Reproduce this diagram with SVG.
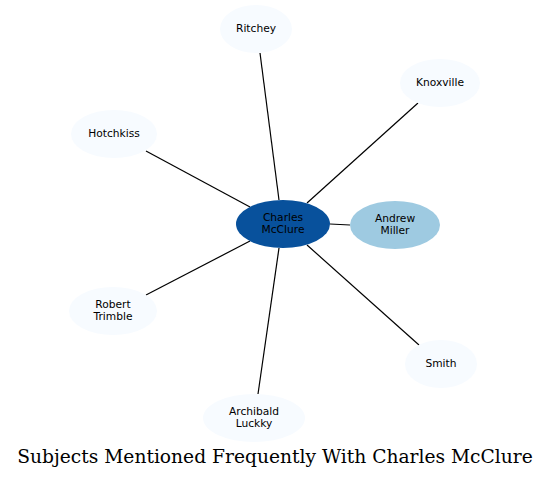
<svg xmlns="http://www.w3.org/2000/svg" width="551" height="479" viewBox="0 0 551 479">
<style>
.n text{font-family:"DejaVu Sans",sans-serif;font-size:10.67px;text-anchor:middle;fill:#000}
.light{fill:#f7fbff}
.e line{stroke:#000;stroke-width:1.2}
.title{font-family:"DejaVu Serif",serif;font-size:18.67px;text-anchor:middle;fill:#000}
</style>
<rect width="551" height="479" fill="#fff"/>
<g class="e" id="edges">
<line x1="279" y1="200" x2="260" y2="53"/>
<line x1="307" y1="203" x2="418" y2="103"/>
<line x1="250" y1="207" x2="146" y2="151"/>
<line x1="330" y1="224" x2="350" y2="225"/>
<line x1="250" y1="241" x2="146" y2="295"/>
<line x1="279" y1="248" x2="258" y2="394"/>
<line x1="307" y1="245" x2="419" y2="345"/>
</g>
<g class="n" id="charles"><ellipse cx="283" cy="224" rx="47" ry="24" fill="#08519c"/><text x="283" y="221">Charles</text><text x="283" y="233">McClure</text></g>
<g class="n" id="andrew"><ellipse cx="395" cy="225" rx="45" ry="24" fill="#9ecae1"/><text x="395" y="222">Andrew</text><text x="395" y="234">Miller</text></g>
<g class="n" id="ritchey"><ellipse class="light" cx="256" cy="29" rx="36" ry="24"/><text x="256" y="32">Ritchey</text></g>
<g class="n" id="knoxville"><ellipse class="light" cx="440" cy="83" rx="40" ry="24"/><text x="440" y="86">Knoxville</text></g>
<g class="n" id="hotchkiss"><ellipse class="light" cx="114" cy="134" rx="43" ry="24"/><text x="114" y="137">Hotchkiss</text></g>
<g class="n" id="trimble"><ellipse class="light" cx="113" cy="311" rx="44" ry="24"/><text x="113" y="308">Robert</text><text x="113" y="320">Trimble</text></g>
<g class="n" id="luckky"><ellipse class="light" cx="254" cy="418" rx="51" ry="24"/><text x="254" y="415">Archibald</text><text x="254" y="427">Luckky</text></g>
<g class="n" id="smith"><ellipse class="light" cx="441" cy="364" rx="36" ry="24"/><text x="441" y="367">Smith</text></g>
<text class="title" x="275" y="463">Subjects Mentioned Frequently With Charles McClure</text>
</svg>
